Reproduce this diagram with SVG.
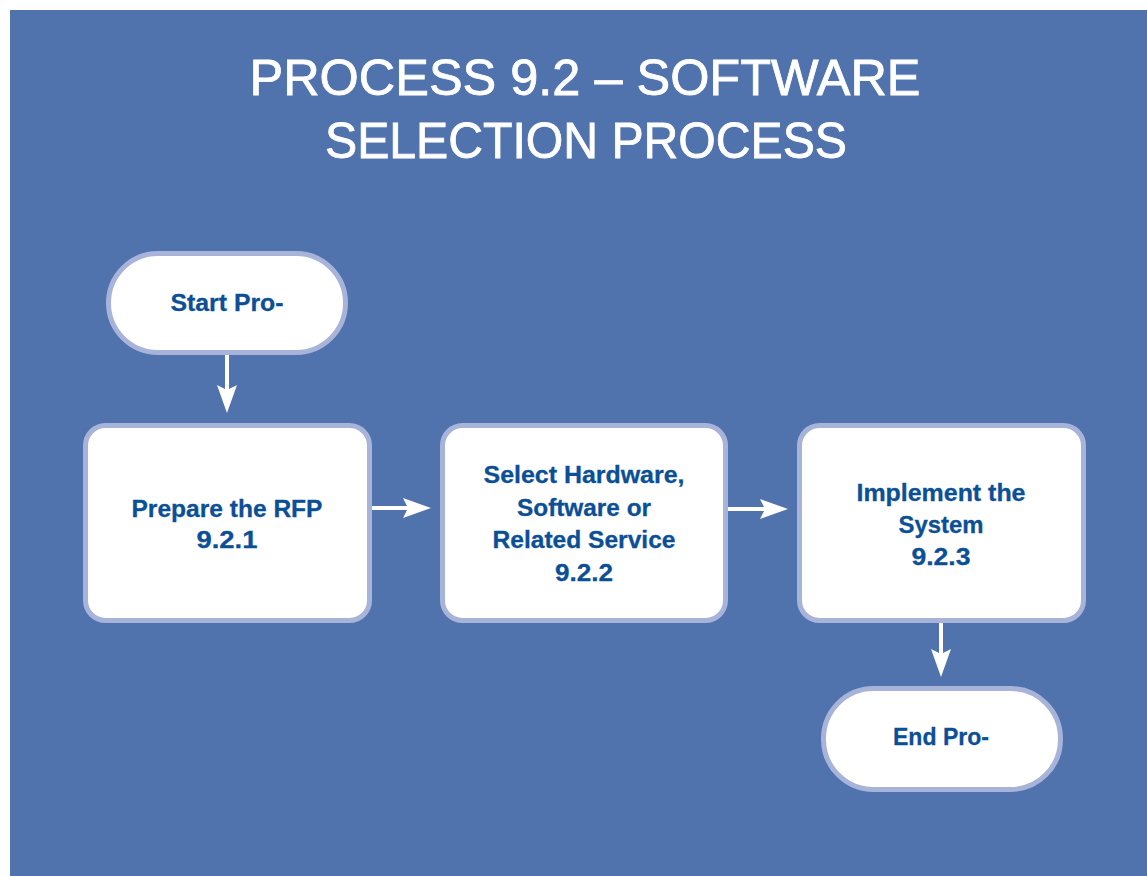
<svg xmlns="http://www.w3.org/2000/svg" width="1147" height="876" viewBox="0 0 1147 876">
  <style>
    .panel { fill: #5073AE; }
    .title { font-family: "Liberation Sans", Arial, sans-serif; font-size: 50px; fill: #FFFFFF; stroke: #FFFFFF; stroke-width: 0.8; text-anchor: middle; }
    .node-shape { fill: #FFFFFF; stroke: #A8B3D9; stroke-width: 5; }
    .label { font-family: "Liberation Sans", Arial, sans-serif; font-weight: bold; font-size: 24px; fill: #0B4F97; stroke: #0B4F97; stroke-width: 0.3; text-anchor: middle; }
    .connector { stroke: #FFFFFF; stroke-width: 4; fill: none; }
  </style>
  <defs>
    <!-- notched arrowhead; the shaft ends at the notch so it never shows through -->
    <marker id="arrowhead" viewBox="0 0 28 20" refX="5" refY="10" markerWidth="28" markerHeight="20" markerUnits="userSpaceOnUse" orient="auto">
      <path d="M0,0 L28,10 L0,20 L5,10 Z" fill="#FFFFFF"/>
    </marker>
  </defs>

  <rect class="panel" x="10" y="10" width="1137" height="866"/>

  <g id="title">
    <text class="title" x="585" y="95" textLength="671" lengthAdjust="spacingAndGlyphs">PROCESS 9.2 – SOFTWARE</text>
    <text class="title" x="586" y="158" textLength="522" lengthAdjust="spacingAndGlyphs">SELECTION PROCESS</text>
  </g>

  <g id="connectors">
    <line class="connector" x1="227" y1="354" x2="227" y2="390" marker-end="url(#arrowhead)"/>
    <line class="connector" x1="371" y1="508" x2="408" y2="508" marker-end="url(#arrowhead)"/>
    <line class="connector" x1="727" y1="509" x2="765" y2="509" marker-end="url(#arrowhead)"/>
    <line class="connector" x1="941" y1="622" x2="941" y2="654" marker-end="url(#arrowhead)"/>
  </g>

  <g id="start">
    <rect class="node-shape" x="108.5" y="253.5" width="237" height="99" rx="49.5"/>
    <text class="label" x="227" y="311" textLength="113" lengthAdjust="spacingAndGlyphs">Start Pro-</text>
  </g>

  <g id="step-9-2-1">
    <rect class="node-shape" x="85.5" y="425.5" width="284" height="195" rx="20"/>
    <text class="label" x="227" y="517" textLength="191" lengthAdjust="spacingAndGlyphs">Prepare the RFP</text>
    <text class="label" x="227" y="548" textLength="61" lengthAdjust="spacingAndGlyphs">9.2.1</text>
  </g>

  <g id="step-9-2-2">
    <rect class="node-shape" x="442.5" y="425.5" width="283" height="195" rx="20"/>
    <text class="label" x="584" y="483" textLength="201" lengthAdjust="spacingAndGlyphs">Select Hardware,</text>
    <text class="label" x="584" y="516" textLength="134" lengthAdjust="spacingAndGlyphs">Software or</text>
    <text class="label" x="584" y="548" textLength="183" lengthAdjust="spacingAndGlyphs">Related Service</text>
    <text class="label" x="584" y="581" textLength="58" lengthAdjust="spacingAndGlyphs">9.2.2</text>
  </g>

  <g id="step-9-2-3">
    <rect class="node-shape" x="799.5" y="425.5" width="284" height="195" rx="20"/>
    <text class="label" x="941" y="501" textLength="169" lengthAdjust="spacingAndGlyphs">Implement the</text>
    <text class="label" x="941" y="533" textLength="85" lengthAdjust="spacingAndGlyphs">System</text>
    <text class="label" x="941" y="565" textLength="59" lengthAdjust="spacingAndGlyphs">9.2.3</text>
  </g>

  <g id="end">
    <rect class="node-shape" x="823.5" y="688.5" width="237" height="101" rx="50"/>
    <text class="label" x="941" y="745" textLength="96" lengthAdjust="spacingAndGlyphs">End Pro-</text>
  </g>
</svg>
